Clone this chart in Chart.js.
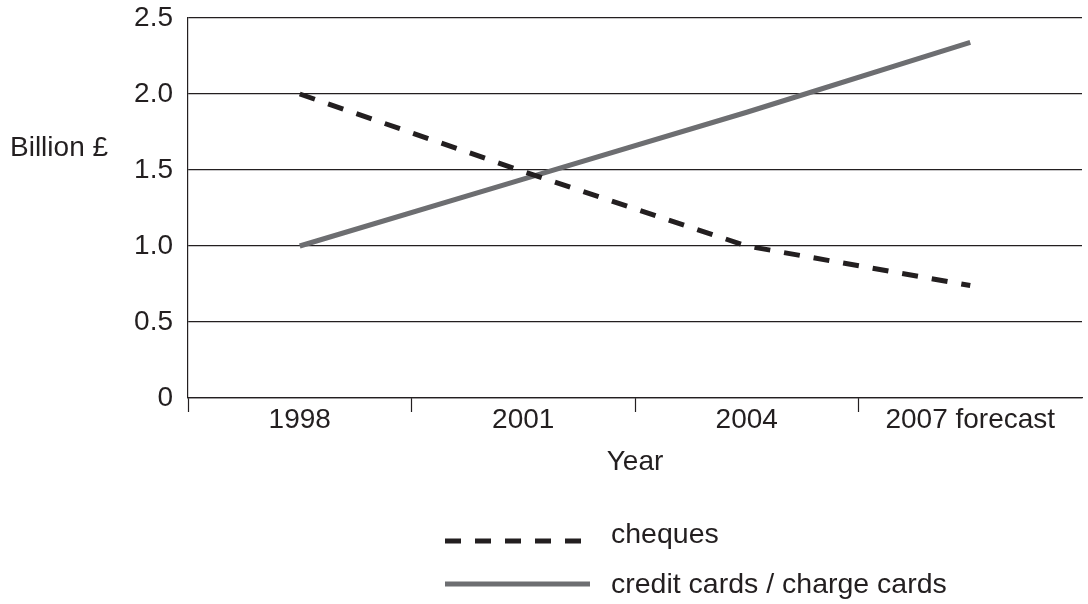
<!DOCTYPE html>
<html>
<head>
<meta charset="utf-8">
<script src="https://cdn.jsdelivr.net/npm/chart.js@4/dist/chart.umd.min.js"></script>
<style>
    body { margin: 0; background: #fff; }
    #wrap { width: 1088px; height: 604px; }
</style>
</head>
<body>
<div id="wrap"><canvas id="paymentsChart" width="1088" height="604"></canvas></div>
<script>
// values
const years = ["1998", "2001", "2004", "2007 forecast"];
const cheques = [2.0, 1.49, 1.0, 0.74];
const creditCards = [1.0, 1.44, 1.88, 2.34];
const yTickValues = [0, 0.5, 1.0, 1.5, 2.0, 2.5];
const yTickLabels = ["0", "0.5", "1.0", "1.5", "2.0", "2.5"];
const seriesNames = ["cheques", "credit cards / charge cards"];
const yTitle = "Billion \u00a3";
const xTitle = "Year";

const ink = "#231f20";
const grey = "#6d6e71";
const fontFamily = '"Liberation Sans", Arial, Helvetica, sans-serif';

// y title + legend are drawn by hand (stacked legend with long line samples)
const extraText = {
    id: "extraText",
    afterDraw(chart) {
        const ctx = chart.ctx;
        ctx.save();
        ctx.font = "28px " + fontFamily;
        ctx.fillStyle = ink;
        ctx.textBaseline = "alphabetic";
        ctx.fillText(yTitle, 10, 156);

        ctx.font = "28.5px " + fontFamily;
        const rows = [541, 584];
        const baselines = [543, 593];
        chart.data.datasets.forEach((ds, i) => {
            const y = rows[i];
            ctx.beginPath();
            ctx.setLineDash(ds.borderDash || []);
            ctx.lineWidth = ds.borderWidth;
            ctx.strokeStyle = ds.borderColor;
            ctx.lineCap = "butt";
            ctx.moveTo(445, y);
            ctx.lineTo(590, y);
            ctx.stroke();
            ctx.setLineDash([]);
            ctx.fillText(ds.label, 611, baselines[i]);
        });
        ctx.restore();
    }
};

new Chart(document.getElementById("paymentsChart"), {
    type: "line",
    data: {
        labels: years,
        datasets: [
            {
                label: seriesNames[0],
                data: cheques,
                borderColor: ink,
                borderWidth: 5,
                borderDash: [16, 14],
                pointRadius: 0,
                tension: 0,
                fill: false
            },
            {
                label: seriesNames[1],
                data: creditCards,
                borderColor: grey,
                borderWidth: 5,
                pointRadius: 0,
                tension: 0,
                fill: false
            }
        ]
    },
    options: {
        responsive: false,
        animation: false,
        devicePixelRatio: 1,
        layout: { padding: { top: 18, right: 6, bottom: 0, left: 0 } },
        plugins: {
            legend: { display: false },
            tooltip: { enabled: false }
        },
        scales: {
            x: {
                offset: true,
                afterFit: (scale) => {
                    scale.height = 206;
                    scale.paddingLeft = 0;
                    scale.paddingRight = 0;
                },
                grid: {
                    offset: true,
                    drawOnChartArea: false,
                    drawTicks: true,
                    tickLength: 14,
                    tickWidth: 1.2,
                    tickColor: (c) => (c.index === undefined ? "rgba(0,0,0,0)" : ink)
                },
                border: { display: true, color: ink, width: 1.2 },
                ticks: {
                    color: ink,
                    padding: -6,
                    maxRotation: 0,
                    autoSkip: false,
                    font: { family: fontFamily, size: 28, lineHeight: 1 }
                },
                title: {
                    display: true,
                    text: xTitle,
                    color: ink,
                    font: { family: fontFamily, size: 28, lineHeight: 1 },
                    padding: { top: 0, bottom: 128 }
                }
            },
            y: {
                min: 0,
                max: 2.5,
                afterFit: (scale) => {
                    scale.width = 188;
                    scale.paddingTop = 0;
                    scale.paddingBottom = 0;
                },
                afterBuildTicks: (scale) => {
                    scale.ticks = yTickValues.map((v) => ({ value: v }));
                },
                grid: {
                    color: ink,
                    lineWidth: 1.2,
                    drawTicks: false
                },
                border: { display: true, color: ink, width: 1.2 },
                ticks: {
                    color: ink,
                    padding: 15,
                    font: { family: fontFamily, size: 28, lineHeight: 1 },
                    callback: (value) => {
                        const i = yTickValues.indexOf(value);
                        return i >= 0 ? yTickLabels[i] : "";
                    }
                }
            }
        }
    },
    plugins: [extraText]
});
</script>
</body>
</html>
